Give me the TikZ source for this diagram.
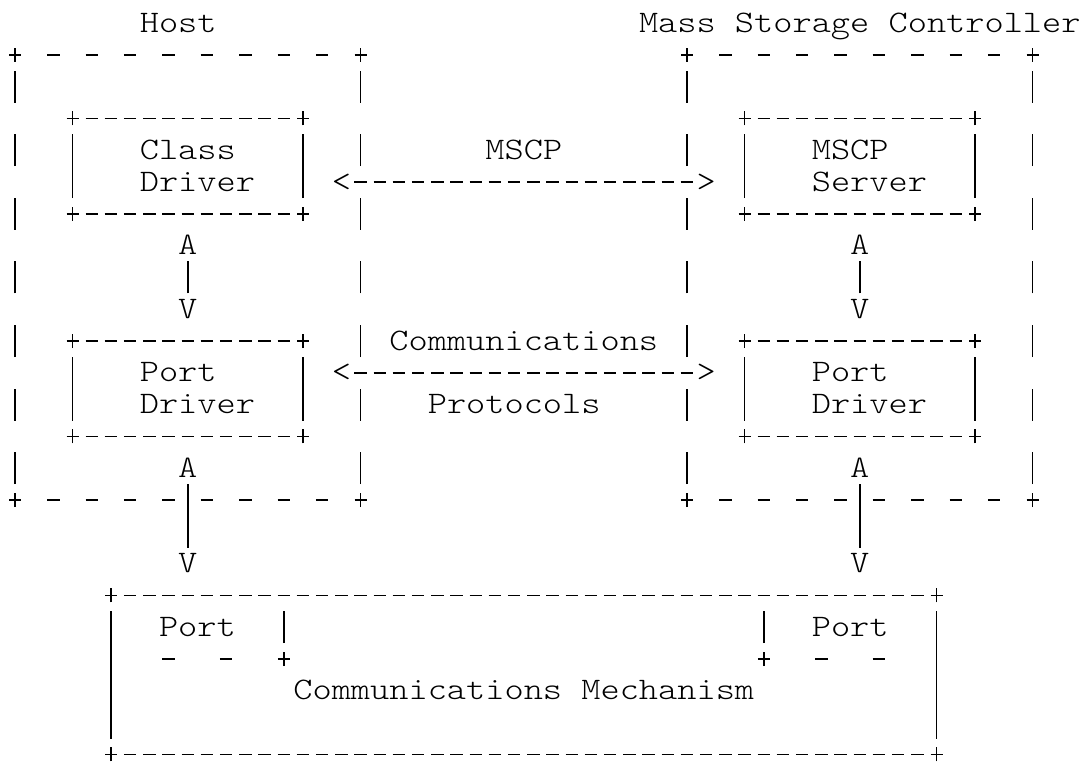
\documentclass[tikz,border=0pt]{standalone}
\usepackage{fontspec}
\newfontfamily\ascfont[Extension=.otf,FakeStretch=1.167]{lmmonolt10-regular}
\newlength\cw \setlength\cw{14.4pt}
\ExplSyntaxOn
\cs_new_protected:Npn \asc_char:n #1
  {
    \str_case:nnF {#1}
      {
        {_} { \hbox_to_wd:nn { \cw } { } }
        {-} { \hbox_to_wd:nn { \cw } { \hfil \rule[6.2pt]{9.4pt}{1.1pt} \hfil } }
        {|} { \hbox_to_wd:nn { \cw } { \hfil \rule[-5.25pt]{1.1pt}{24pt} \hfil } }
        {+} { \hbox_to_wd:nn { \cw } { \hfil \rule[6.2pt]{9pt}{1.1pt} \kern-5.05pt \rule[1.5pt]{1.1pt}{10.5pt} \kern3.95pt \hfil } }
      }
      { \hbox_to_wd:nn { \cw } { \hfil #1 \hfil } }
  }
\NewDocumentCommand \ascline { m } { \str_map_inline:nn {#1} { \asc_char:n {##1} } }
\ExplSyntaxOff
\tikzset{asc/.style={anchor=base west, inner sep=0pt, outer sep=0pt,
  font=\ascfont\fontsize{23.5pt}{23.85pt}\selectfont}}
\newcommand\seg[4]{\node[asc] (#1) at ({4.05pt+#2*14.4pt},{-24pt-#3*23.85pt}) {\ascline{#4}};}
\begin{document}
\begin{tikzpicture}
\fill[white] (0,0) rectangle (813pt,-573pt);
\useasboundingbox (0,0) rectangle (813pt,-573pt);
% row 0
\seg{host}{7}{0}{Host}
\seg{msc}{33}{0}{Mass_Storage_Controller}
% row 1
\seg{hosttop}{0}{1}{+_-_-_-_-_-_-_-_-_+}
\seg{msctop}{35}{1}{+_-_-_-_-_-_-_-_-_+}
% row 2
\seg{r2a}{0}{2}{|}\seg{r2b}{18}{2}{|}\seg{r2c}{35}{2}{|}\seg{r2d}{53}{2}{|}
% row 3
\seg{cdtop}{3}{3}{+-----------+}
\seg{mstop}{38}{3}{+-----------+}
% row 4
\seg{r4a}{0}{4}{|}\seg{r4b}{3}{4}{|}\seg{class}{7}{4}{Class}\seg{r4c}{15}{4}{|}\seg{r4d}{18}{4}{|}
\seg{mscp}{25}{4}{MSCP}
\seg{r4e}{35}{4}{|}\seg{r4f}{38}{4}{|}\seg{mscpsrv}{42}{4}{MSCP}\seg{r4g}{50}{4}{|}\seg{r4h}{53}{4}{|}
% row 5
\seg{r5a}{3}{5}{|}\seg{cdriver}{7}{5}{Driver}\seg{r5b}{15}{5}{|}
\seg{mscparrow}{17}{5}{<------------------>}
\seg{r5c}{38}{5}{|}\seg{server}{42}{5}{Server}\seg{r5d}{50}{5}{|}
% row 6
\seg{r6a}{0}{6}{|}\seg{cdbot}{3}{6}{+-----------+}\seg{r6b}{18}{6}{|}
\seg{r6c}{35}{6}{|}\seg{msbot}{38}{6}{+-----------+}\seg{r6d}{53}{6}{|}
% row 7
\seg{a1}{9}{7}{A}\seg{a2}{44}{7}{A}
% row 8
\seg{r8a}{0}{8}{|}\seg{l1}{9}{8}{|}\seg{r8b}{18}{8}{|}
\seg{r8c}{35}{8}{|}\seg{l2}{44}{8}{|}\seg{r8d}{53}{8}{|}
% row 9
\seg{v1}{9}{9}{V}\seg{v2}{44}{9}{V}
% row 10
\seg{r10a}{0}{10}{|}\seg{pdtop}{3}{10}{+-----------+}\seg{r10b}{18}{10}{|}
\seg{comm}{20}{10}{Communications}
\seg{r10c}{35}{10}{|}\seg{pd2top}{38}{10}{+-----------+}\seg{r10d}{53}{10}{|}
% row 11
\seg{r11a}{3}{11}{|}\seg{port1}{7}{11}{Port}\seg{r11b}{15}{11}{|}
\seg{commarrow}{17}{11}{<------------------>}
\seg{r11c}{38}{11}{|}\seg{port2}{42}{11}{Port}\seg{r11d}{50}{11}{|}
% row 12
\seg{r12a}{0}{12}{|}\seg{r12b}{3}{12}{|}\seg{pdriver1}{7}{12}{Driver}\seg{r12c}{15}{12}{|}\seg{r12d}{18}{12}{|}
\seg{proto}{22}{12}{Protocols}
\seg{r12e}{35}{12}{|}\seg{r12f}{38}{12}{|}\seg{pdriver2}{42}{12}{Driver}\seg{r12g}{50}{12}{|}\seg{r12h}{53}{12}{|}
% row 13
\seg{pdbot}{3}{13}{+-----------+}
\seg{pd2bot}{38}{13}{+-----------+}
% row 14
\seg{r14a}{0}{14}{|}\seg{a3}{9}{14}{A}\seg{r14b}{18}{14}{|}
\seg{r14c}{35}{14}{|}\seg{a4}{44}{14}{A}\seg{r14d}{53}{14}{|}
% row 15
\seg{hostbot}{0}{15}{+_-_-_-_-|-_-_-_-_+}
\seg{mscbot}{35}{15}{+_-_-_-_-|-_-_-_-_+}
% row 16
\seg{l3}{9}{16}{|}\seg{l4}{44}{16}{|}
% row 17
\seg{v3}{9}{17}{V}\seg{v4}{44}{17}{V}
% row 18
\seg{cmtop}{5}{18}{+------------------------------------------+}
% row 19
\seg{r19a}{5}{19}{|}\seg{cport1}{8}{19}{Port}\seg{r19b}{14}{19}{|}
\seg{r19c}{39}{19}{|}\seg{cport2}{42}{19}{Port}\seg{r19d}{48}{19}{|}
% row 20
\seg{r20a}{5}{20}{|}\seg{pb1}{8}{20}{-__-__+}\seg{pb2}{39}{20}{+__-__-}\seg{r20b}{48}{20}{|}
% row 21
\seg{r21a}{5}{21}{|}\seg{mech}{15}{21}{Communications_Mechanism}\seg{r21b}{48}{21}{|}
% row 22
\seg{r22a}{5}{22}{|}\seg{r22b}{48}{22}{|}
% row 23
\seg{cmbot}{5}{23}{+------------------------------------------+}
\end{tikzpicture}
\end{document}
